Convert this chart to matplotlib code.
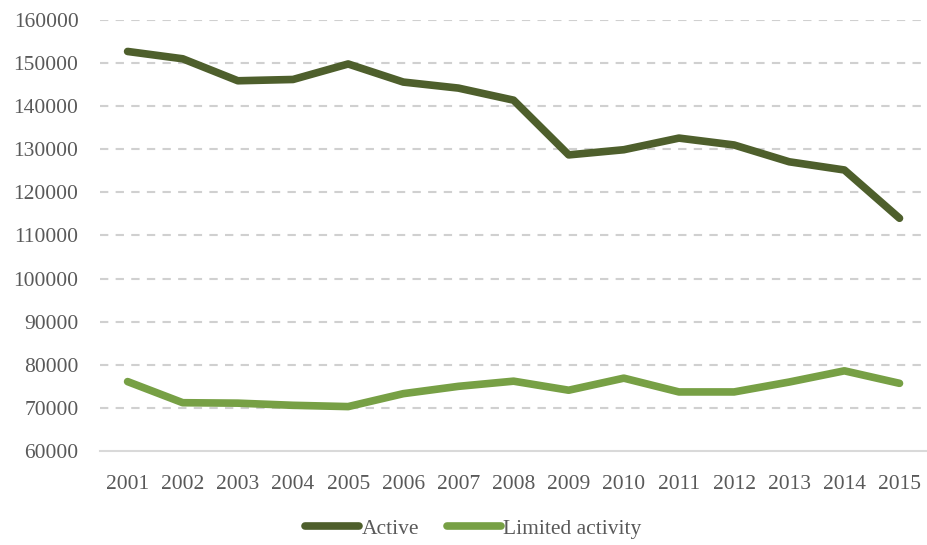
import matplotlib
matplotlib.use("Agg")
import matplotlib.pyplot as plt

years = [str(y) for y in range(2001, 2016)]
active = [152700, 151000, 145900, 146200, 149800, 145600, 144200, 141400,
          128700, 129900, 132600, 131000, 127100, 125200, 114000]
limited = [76100, 71200, 71100, 70600, 70300, 73300, 75000, 76200,
           74100, 76900, 73700, 73700, 76000, 78600, 75700]
yticks = list(range(60000, 160001, 10000))

plt.rcParams['font.family'] = ['Liberation Serif', 'DejaVu Serif']

fig = plt.figure(figsize=(9.28, 5.45), dpi=100)
ax = fig.add_axes([0.1078, 0.1725, 0.8912, 0.7908])

x = list(range(len(years)))
ax.plot(x, active, color='#4e5f2c', lw=5.5, solid_capstyle='round', solid_joinstyle='round', label='Active', zorder=3)
ax.plot(x, limited, color='#77a045', lw=5.5, solid_capstyle='round', solid_joinstyle='round', label='Limited activity', zorder=3)

ax.set_xlim(-0.5, len(years) - 0.5)
ax.set_ylim(60000, 160000)
ax.set_yticks(yticks)
ax.set_yticklabels([str(v) for v in yticks])
ax.set_xticks(x)
ax.set_xticklabels(years)
ax.tick_params(axis='both', length=0, labelsize=15.5, colors='#595959')
ax.tick_params(axis='y', pad=15.5)
ax.tick_params(axis='x', pad=17)

for v in yticks[1:]:
    ax.axhline(v, color='#d0d0d0', lw=1.5, ls=(0, (4, 3.5)), zorder=1)
for s in ['top', 'right', 'left']:
    ax.spines[s].set_visible(False)
ax.spines['bottom'].set_color('#d9d9d9')
ax.spines['bottom'].set_linewidth(1.5)

leg = fig.legend(loc='center', bbox_to_anchor=(0.51, 0.03), ncol=2, frameon=False,
                 fontsize=15.5, handlelength=2.5, handletextpad=0.1, columnspacing=1.3)
for t in leg.get_texts():
    t.set_color('#595959')

fig.savefig('out.png', dpi=100)
